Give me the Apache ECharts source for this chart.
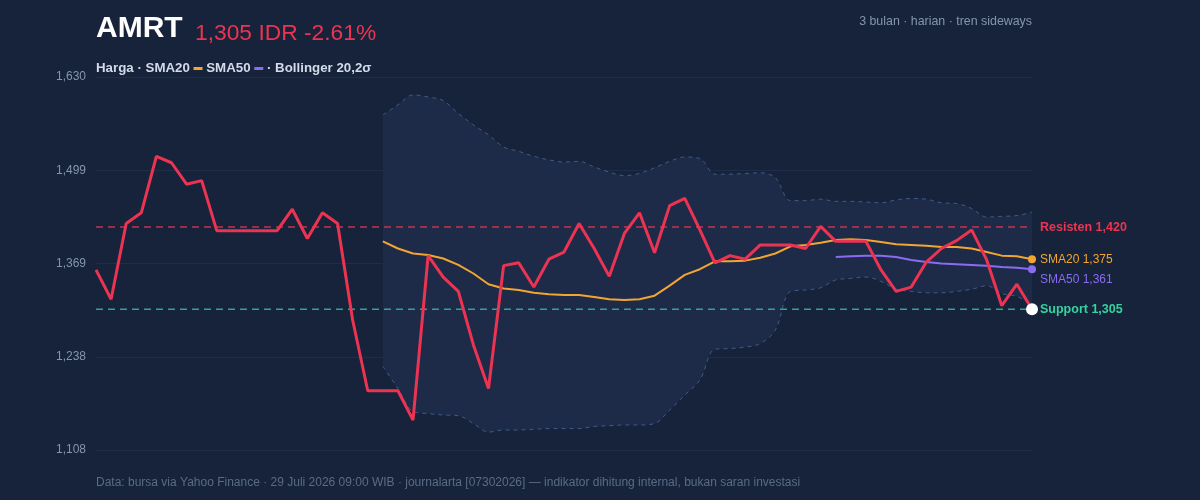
<!DOCTYPE html>
<html>
<head>
<meta charset="utf-8">
<script src="https://cdn.jsdelivr.net/npm/echarts@6/dist/echarts.min.js"></script>
<style>
  html, body { margin: 0; padding: 0; background: #16233a; }
  #main { width: 1200px; height: 500px; }
</style>
</head>
<body>
<div id="main"></div>
<script>
// harga penutupan harian (63 hari bursa)
const price = [1360,1319,1425,1440,1519,1510,1480,1485,1415,1415,
  1415,1415,1415,1445,1404,1440,1425,1290,1191,1191,
  1191,1150,1380,1350,1330,1255,1194,1366,1370,1336,
  1375,1385,1425,1390,1351,1411,1440,1384,1450,1460,
  1416,1370,1380,1375,1395,1395,1395,1390,1421,1400,
  1400,1400,1360,1330,1336,1371,1390,1401,1416,1374,
  1310,1340,1305];
// indikator, mulai dari hari ke-20 / ke-50
const SMA20_START = 19;
const sma20 = [1400,1390,1383,1381,1376,1367,1355,1340,1334,1332,1328,1326,1325,1325,1322,
  1319,1318,1319,1324,1338,1353,1361,1372,1372,1373,1377,1383,1393,1395,1398,
  1402,1403,1402,1399,1396,1395,1394,1392,1392,1390,1385,1380,1379,1375];
const SMA50_START = 49;
const sma50 = [1378,1379,1380,1380,1378,1374,1371,1369,1368,1367,1366,1364,1363,1361];
const bbUpper = [1577,1591,1605,1602,1597,1579,1563,1549,1532,1526,1519,1514,1511,1512,1504,
  1497,1492,1495,1503,1512,1518,1516,1494,1494,1495,1496,1489,1457,1457,1459,
  1456,1456,1455,1454,1458,1460,1459,1454,1453,1446,1434,1435,1436,1441];
const bbLower = [1225,1194,1162,1159,1157,1156,1145,1133,1136,1136,1137,1138,1138,1138,1141,
  1142,1143,1143,1145,1164,1185,1206,1249,1250,1252,1257,1276,1330,1332,1335,
  1346,1348,1350,1344,1333,1330,1328,1328,1330,1333,1338,1327,1323,1311];
const resisten = 1420;
const support = 1305;
const yTicks = [1108, 1630, 130.5]; // min, max, interval

const days = price.map((v, i) => i + 1);
function pad(arr, start) {
  const out = [];
  for (let i = 0; i < start; i++) out.push('-');
  return out.concat(arr);
}
const lowerData = pad(bbLower, SMA20_START);
const bandData = pad(bbUpper.map((v, i) => v - bbLower[i]), SMA20_START);
const last = price.length - 1;
const fmt = v => Math.floor(v).toLocaleString('en-US');

const FONT = 'Liberation Sans, Arial, sans-serif';
const RED = '#ec3452', ORANGE = '#f2a531', PURPLE = '#8a6cf0', GREEN = '#34d3a0';

// garis horizontal level (resisten / support), label di ujung kanan
function levelLine(name, value, lineColor, textColor) {
  return {
    name: name,
    type: 'line',
    data: days.map(() => value),
    symbol: 'none',
    silent: true,
    lineStyle: { color: lineColor, type: [7, 5], width: 1.5 },
    endLabel: { show: true, formatter: name + ' ' + fmt(value), color: textColor, fontWeight: 'bold', fontSize: 12.5, distance: 8, fontFamily: FONT },
    z: 2
  };
}

const myChart = echarts.init(document.getElementById('main'));
const option = {
  animation: false,
  backgroundColor: '#16233a',
  textStyle: { fontFamily: FONT },
  title: [
    { text: 'AMRT', left: 96, top: 14, padding: 0, textStyle: { color: '#ffffff', fontSize: 30, fontWeight: 'bold', fontFamily: FONT } },
    { text: '1,305 IDR -2.61%', left: 195, top: 22, padding: 0, textStyle: { color: RED, fontSize: 22.8, fontWeight: 'normal', fontFamily: FONT } },
    {
      text: '{b|Harga · SMA20 }{o|}{b| SMA50 }{p|}{b| · Bollinger 20,2σ}',
      left: 96, top: 62, padding: 0,
      textStyle: {
        rich: {
          b: { color: '#d3dbea', fontSize: 13.3, fontWeight: 'bold', fontFamily: FONT },
          o: { width: 9, height: 3, backgroundColor: ORANGE },
          p: { width: 9, height: 3, backgroundColor: PURPLE }
        }
      }
    },
    { text: '3 bulan · harian · tren sideways', right: 168, top: 16, padding: 0, textStyle: { color: '#8595ae', fontSize: 12.4, fontWeight: 'normal', fontFamily: FONT } },
    { text: 'Data: bursa via Yahoo Finance · 29 Juli 2026 09:00 WIB · journalarta [07302026] — indikator dihitung internal, bukan saran investasi',
      left: 96, top: 477, padding: 0, textStyle: { color: '#5b6b86', fontSize: 12, fontWeight: 'normal', fontFamily: FONT } }
  ],
  grid: { left: 96, right: 168, top: 77, bottom: 50, containLabel: false },
  xAxis: {
    type: 'category',
    data: days,
    boundaryGap: false,
    axisLine: { show: false },
    axisTick: { show: false },
    axisLabel: { show: false },
    splitLine: { show: false }
  },
  yAxis: {
    type: 'value',
    min: yTicks[0],
    max: yTicks[1],
    interval: yTicks[2],
    axisLine: { show: false },
    axisTick: { show: false },
    axisLabel: { color: '#8595ae', fontSize: 12, margin: 10, formatter: fmt },
    splitLine: { lineStyle: { color: '#1f2d49', width: 1 } }
  },
  series: [
    {
      name: 'BB bawah',
      type: 'line',
      data: lowerData,
      stack: 'bb',
      smooth: 0.35,
      symbol: 'none',
      lineStyle: { color: '#3f5a88', width: 1, type: [4, 4] },
      z: 1
    },
    {
      name: 'BB atas',
      type: 'line',
      data: bandData,
      stack: 'bb',
      smooth: 0.35,
      symbol: 'none',
      lineStyle: { color: '#3f5a88', width: 1, type: [4, 4] },
      areaStyle: { color: '#1d2b48', opacity: 1 },
      z: 1
    },
    levelLine('Resisten', resisten, '#c4344f', RED),
    levelLine('Support', support, '#2ea68f', GREEN),
    {
      name: 'SMA20',
      type: 'line',
      data: pad(sma20, SMA20_START),
      symbol: 'circle',
      showSymbol: true,
      symbolSize: (v, p) => p.dataIndex === last ? 8 : 0,
      itemStyle: { color: ORANGE },
      lineStyle: { color: ORANGE, width: 2 },
      endLabel: { show: true, formatter: 'SMA20 ' + fmt(sma20[sma20.length - 1]), color: ORANGE, fontSize: 12, distance: 8 },
      z: 3
    },
    {
      name: 'SMA50',
      type: 'line',
      data: pad(sma50, SMA50_START),
      symbol: 'circle',
      showSymbol: true,
      symbolSize: (v, p) => p.dataIndex === last ? 8 : 0,
      itemStyle: { color: PURPLE },
      lineStyle: { color: PURPLE, width: 2 },
      endLabel: { show: true, formatter: 'SMA50 ' + fmt(sma50[sma50.length - 1]), color: PURPLE, fontSize: 12, distance: 8, offset: [0, 10] },
      z: 3
    },
    {
      name: 'Harga',
      type: 'line',
      data: price,
      symbol: 'circle',
      showSymbol: true,
      symbolSize: (v, p) => p.dataIndex === last ? 12 : 0,
      itemStyle: { color: '#ffffff', borderWidth: 0 },
      lineStyle: { color: RED, width: 3 },
      z: 4
    }
  ]
};
myChart.setOption(option);
</script>
</body>
</html>
